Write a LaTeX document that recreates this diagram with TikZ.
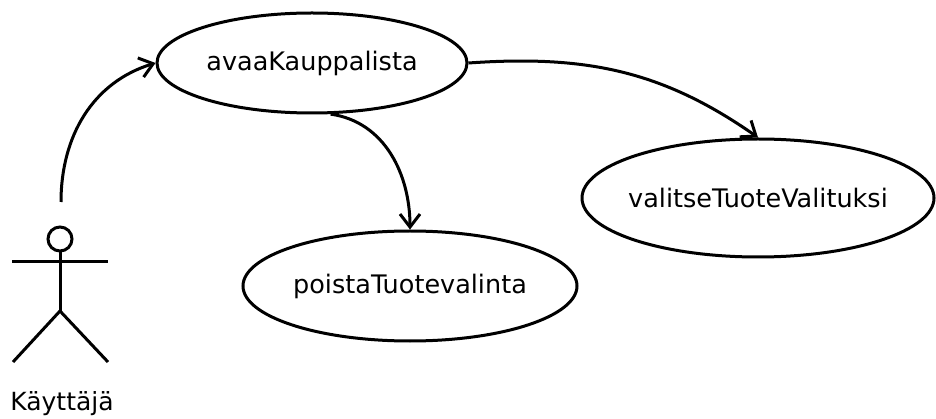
\documentclass[tikz,border=0pt]{standalone}
\usepackage{fontspec}
\setmainfont{DejaVu Sans}
\usetikzlibrary{shapes.geometric,arrows.meta}
\begin{document}
\begin{tikzpicture}[x=1pt,y=-1pt,
  usecase/.style={ellipse,draw,line width=3pt,inner sep=0pt,inner xsep=-40pt,font=\fontsize{25.5}{30}\selectfont},
  conn/.style={line width=3pt,-{Straight Barb[length=13pt,width=20pt,line width=3pt]}},
  stick/.style={line width=3pt}]
\useasboundingbox (0,0) rectangle (936,419);
\node[usecase,minimum width=310pt,minimum height=100pt] (avaa) at (312,63) {avaaKauppalista};
\node[usecase,minimum width=352pt,minimum height=118pt] (valitse) at (758,198) {valitseTuoteValituksi};
\node[usecase,minimum width=334pt,minimum height=110pt] (poista) at (410,286) {poistaTuotevalinta};
% actor
\node[circle,draw,line width=3pt,minimum size=24pt,inner sep=0pt] (head) at (60,239) {};
\coordinate (hip) at (60,311);
\coordinate (armL) at (12,262);
\coordinate (armR) at (108,262);
\coordinate (legL) at (13,362);
\coordinate (legR) at (108,362);
\draw[stick] (head.south) -- (hip);
\draw[stick] (armL) -- (armR);
\draw[stick] (legL) -- (hip) -- (legR);
\node[anchor=base,font=\fontsize{25}{30}\selectfont,inner sep=0pt] (actorlabel) at (62,410) {Käyttäjä};
\coordinate (actortop) at (61,202);
% connectors
\draw[conn] (actortop) to[out=90,in=197] (avaa.west);
\draw[conn] (avaa.-70) to[out=-8,in=90] (poista.north);
\draw[conn] (avaa.east) to[out=4,in=145] (valitse.north);
\end{tikzpicture}
\end{document}
